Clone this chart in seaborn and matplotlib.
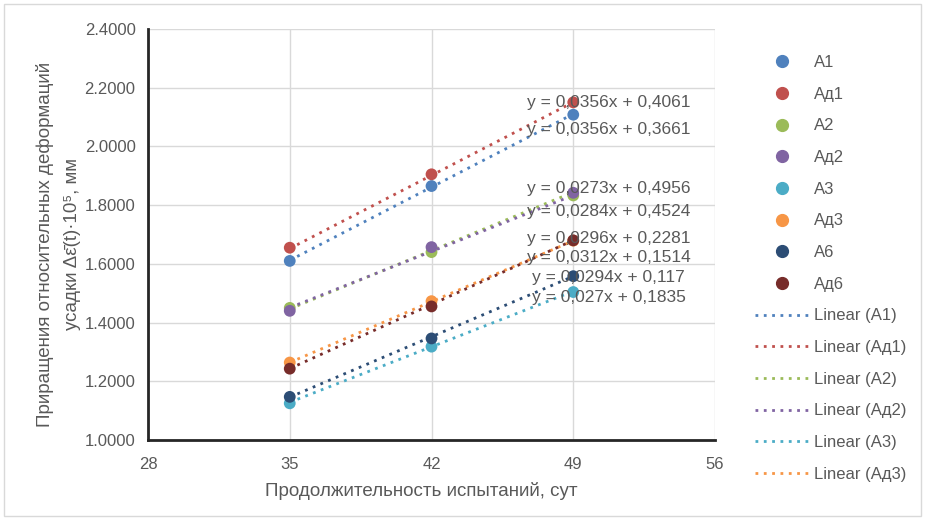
import numpy as np
import pandas as pd
import seaborn as sns
import matplotlib.pyplot as plt
from matplotlib.lines import Line2D
from matplotlib.patches import Rectangle
from matplotlib.ticker import FormatStrFormatter

# Test durations (days)
days = [35, 42, 49]

# Series names and measured increments
series = ["А1", "Ад1", "А2", "Ад2", "А3", "Ад3", "А6", "Ад6"]
a1 = [1.610, 1.865, 2.108]
ad1 = [1.655, 1.905, 2.150]
a2 = [1.450, 1.640, 1.833]
ad2 = [1.440, 1.657, 1.842]
a3 = [1.125, 1.318, 1.504]
ad3 = [1.264, 1.473, 1.679]
a6 = [1.147, 1.346, 1.558]
ad6 = [1.243, 1.455, 1.680]

# Linear trend coefficients (slope, intercept) per series
slopes = [0.0356, 0.0356, 0.0284, 0.0273, 0.027, 0.0296, 0.0294, 0.0312]
intercepts = [0.3661, 0.4061, 0.4524, 0.4956, 0.1835, 0.2281, 0.117, 0.1514]

colors = ["#4F81BD", "#C0504D", "#9BBB59", "#8064A2",
          "#4BACC6", "#F79646", "#2C4D75", "#772C2A"]

# Vertical placement of the trend equations (data units)
eq_y = [2.056, 2.148, 1.777, 1.858, 1.484, 1.688, 1.552, 1.623]

values = [a1, ad1, a2, ad2, a3, ad3, a6, ad6]
df = pd.DataFrame({
    "x": np.tile(days, len(series)),
    "y": np.concatenate(values),
    "s": np.repeat(series, len(days)),
})

sns.set_theme(style="whitegrid")
plt.rcParams["font.family"] = ["Liberation Sans", "DejaVu Sans"]
gray = "#595959"

fig = plt.figure(figsize=(9.25, 5.2), dpi=100)
ax = fig.add_axes([0.16, 0.1538, 0.613, 0.7905])
fig.patches.append(Rectangle((0.004, 0.008), 0.992, 0.984, transform=fig.transFigure,
                             fill=False, edgecolor="#d9d9d9", linewidth=1))

palette = dict(zip(series, colors))

# Trend lines from their coefficients
for name, k, b, c in zip(series, slopes, intercepts, colors):
    tx = np.array([days[0], days[-1]])
    sns.lineplot(x=tx, y=k * tx + b, ax=ax, color=c, linestyle=(0, (1, 2)),
                 linewidth=2, zorder=3)

sns.scatterplot(data=df, x="x", y="y", hue="s", palette=palette, s=72,
                edgecolor="none", ax=ax, legend=False, zorder=4)

for k, b, yy in zip(slopes, intercepts, eq_y):
    txt = f"y = {k:g}x + {b:g}".replace(".", ",")
    ax.text(50.75, yy, txt, ha="center", va="center", fontsize=12.5,
            color=gray, zorder=5)

ax.set_xlim(28, 56)
ax.set_ylim(1.0, 2.4)
ax.set_xticks(np.arange(28, 57, 7))
ax.set_yticks(np.arange(1.0, 2.41, 0.2))
ax.yaxis.set_major_formatter(FormatStrFormatter("%.4f"))
ax.grid(True, color="#d9d9d9", linewidth=1)
ax.set_facecolor("white")
for side in ("top", "right"):
    ax.spines[side].set_visible(False)
for side in ("left", "bottom"):
    ax.spines[side].set_color("#262626")
    ax.spines[side].set_linewidth(2)
ax.tick_params(axis="both", which="major", direction="inout", length=8,
               width=2, color="#262626", labelcolor=gray, labelsize=12)
ax.tick_params(axis="x", pad=8)
ax.tick_params(axis="y", pad=5)

ax.set_xlabel("Продолжительность испытаний, сут", fontsize=13.5, color=gray)
ax.set_ylabel("Приращения относительных деформаций\nусадки Δε\u0304(t)·10⁵, мм",
              fontsize=13.5, color=gray, linespacing=1.75)
ax.xaxis.set_label_coords(0.482, -0.103)
ax.yaxis.set_label_coords(-0.118, 0.477)

handles = [Line2D([], [], marker="o", linestyle="none", color=c, markersize=8.5)
           for c in colors]
labels = list(series)
for name, c in list(zip(series, colors))[:6]:
    handles.append(Line2D([], [], color=c, linestyle=(0, (1, 2)), linewidth=2))
    labels.append(f"Linear ({name})")

leg = fig.legend(handles, labels, loc="upper left", bbox_to_anchor=(0.809, 0.907),
                 frameon=False, fontsize=12, labelspacing=1.0, handlelength=3.3,
                 handletextpad=0.25, borderaxespad=0)
for t in leg.get_texts():
    t.set_color(gray)

fig.savefig("out.png", dpi=100)
